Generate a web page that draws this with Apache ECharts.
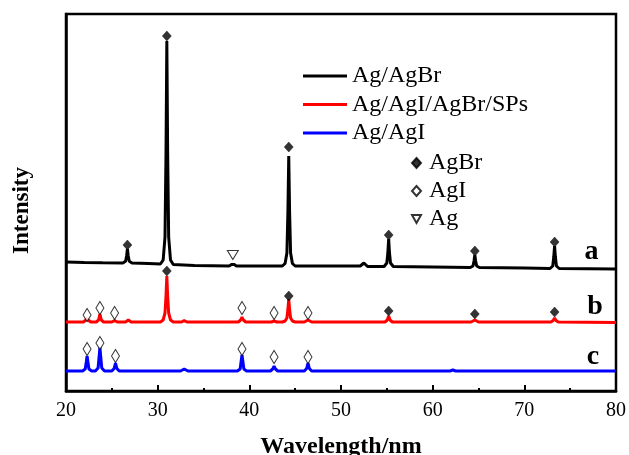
<!DOCTYPE html>
<html>
<head>
<meta charset="utf-8">
<script src="https://cdn.jsdelivr.net/npm/echarts@6/dist/echarts.min.js"></script>
<style>html,body{margin:0;padding:0;background:#fff}#c{width:629px;height:455px}</style>
</head>
<body>
<div id="c"></div>
<script>
// x tick labels
var xTicks = [20, 30, 40, 50, 60, 70, 80];
var seriesNames = ['Ag/AgBr', 'Ag/AgI/AgBr/SPs', 'Ag/AgI'];
var markerNames = ['AgBr', 'AgI', 'Ag'];
var curveLabels = ['a', 'b', 'c'];

// Curve a: Ag/AgBr  [2theta, intensity (offset, arbitrary units)]
var curveA = [
  [20,129],[22,128.5],[24,128.2],
  [26.2,128],[26.5,129.7],[26.61,135],[26.7,142],[26.79,135],[26.9,129.7],[27.2,128],
  [29,127.5],[30.3,127],[30.6,131],[30.8,154],[30.91,238],[31.0,350],[31.09,238],[31.2,154],[31.4,131],[31.7,126.5],
  [34,125.5],[37.8,125],[38.05,126.5],[38.2,128],[38.35,126.5],[38.6,125],
  [43.6,125],[43.9,127.5],[44.1,138],[44.21,180],[44.3,235],[44.39,180],[44.5,138],[44.7,127.5],[45.0,125],
  [48,125],[52.1,125],[52.5,128],[52.9,124.5],
  [54.7,124.5],[55.0,128],[55.11,138],[55.2,152],[55.29,138],[55.4,128],[55.7,124.5],
  [60,124],[64.1,123.5],[64.4,125],[64.51,130],[64.6,136],[64.69,130],[64.8,125],[65.1,123.5],
  [70,123],[72.8,122.5],[73.1,125],[73.21,134],[73.3,145],[73.39,134],[73.5,125],[73.8,122.5],
  [80,122]
];

// Curve b: Ag/AgI/AgBr/SPs
var curveB = [
  [20,69],[21.9,69],[22.3,72],[22.7,69],
  [23.3,69],[23.55,71],[23.7,77],[23.85,71],[24.1,69],
  [25.0,69],[25.3,70.5],[25.6,69],
  [26.5,69],[26.8,71],[27.1,69],
  [30.3,69],[30.6,71],[30.8,78],[30.91,95],[31.0,115],[31.09,95],[31.2,78],[31.4,71],[31.7,69],
  [32.6,69],[32.9,70.5],[33.2,69],
  [38.8,69],[39.05,71],[39.2,74],[39.35,71],[39.6,69],
  [42.4,69],[42.7,70],[43.0,69],
  [43.6,69],[43.9,70],[44.1,73],[44.21,82],[44.3,92],[44.39,82],[44.5,73],[44.7,70],[45.0,69],
  [46.0,69],[46.4,71],[46.8,69],
  [54.8,69],[55.05,71],[55.2,75],[55.35,71],[55.6,69],
  [64.2,69],[64.6,71],[65.0,69],
  [72.9,69],[73.15,70.5],[73.3,73],[73.45,70.5],[73.7,69],
  [80,68.5]
];

// Curve c: Ag/AgI
var curveC = [
  [20,20],
  [21.8,20],[22.1,22],[22.21,29],[22.3,35],[22.39,29],[22.5,22],[22.8,20],
  [23.2,20],[23.5,23],[23.61,34],[23.7,44],[23.79,34],[23.9,23],[24.2,20],
  [25.0,20],[25.25,22.5],[25.4,28],[25.55,22.5],[25.8,20],
  [32.5,20],[32.9,22],[33.3,20],
  [38.7,20],[39.0,22],[39.11,30],[39.2,36],[39.29,30],[39.4,22],[39.7,20],
  [42.3,20],[42.55,22],[42.7,25],[42.85,22],[43.1,20],
  [46.0,20],[46.25,22.5],[46.4,28],[46.55,22.5],[46.8,20],
  [61.9,20],[62.2,21],[62.5,20],
  [80,20]
];

// Phase markers
var markAgBr = [
  [26.7,146],[31.0,355],[44.3,244],[55.2,156],[64.6,140],[73.3,149],
  [31.0,120],[44.3,95],[55.2,80],[64.6,77],[73.3,79]
];
var markAgI = [
  [22.3,76],[23.7,83],[25.3,78],[39.2,83],[42.7,78],[46.4,78],
  [22.3,42],[23.7,48],[25.4,35],[39.2,42],[42.7,34],[46.4,34]
];
var markAg = [
  [38.2,136]
];

var SERIF = '"Liberation Serif", "Times New Roman", serif';
var colors = ['#000000', '#ff0000', '#0000ff'];
var curves = [curveA, curveB, curveC];

var series = curves.map(function (d, i) {
  return {
    name: seriesNames[i], type: 'line', data: d, symbol: 'none',
    lineStyle: { color: colors[i], width: 3 }, itemStyle: { color: colors[i] },
    z: 2, silent: true
  };
});
series.push({
  name: markerNames[0], type: 'scatter', data: markAgBr, symbol: 'diamond', symbolSize: [9, 10],
  itemStyle: { color: '#000', borderColor: '#000', borderWidth: 0.5 }, z: 5
});
series.push({
  name: markerNames[1], type: 'scatter', data: markAgI, symbol: 'diamond', symbolSize: [8, 13],
  itemStyle: { color: '#fff', borderColor: '#000', borderWidth: 1 }, z: 5
});
series.push({
  name: markerNames[2], type: 'scatter', data: markAg, symbol: 'path://M0,0 L10,0 L5,9 Z', symbolSize: [11, 9],
  itemStyle: { color: '#fff', borderColor: '#000', borderWidth: 1 }, z: 5
});

var chart = echarts.init(document.getElementById('c'), null, { renderer: 'canvas' });
chart.setOption({
  animation: false,
  backgroundColor: '#fff',
  grid: { left: 66, right: 13, top: 14, bottom: 64, outerBoundsMode: 'none', containLabel: false,
          show: true, borderColor: '#000', borderWidth: 2.5 },
  xAxis: {
    type: 'value', min: xTicks[0], max: xTicks[xTicks.length - 1], interval: 10,
    name: 'Wavelength/nm', nameLocation: 'middle', nameGap: 44,
    nameTextStyle: { fontFamily: SERIF, fontSize: 24, fontWeight: 'bold', color: '#000' },
    axisLine: { show: true, lineStyle: { color: '#000', width: 2.5 } },
    axisTick: { show: true, inside: true, length: 6, lineStyle: { color: '#000', width: 2 } },
    minorTick: { show: true, splitNumber: 2, length: 3, lineStyle: { color: '#000', width: 2 } },
    axisLabel: { fontFamily: SERIF, fontSize: 20, color: '#000', margin: 10 },
    splitLine: { show: false }
  },
  yAxis: {
    type: 'value', min: 0, max: 377,
    name: 'Intensity', nameLocation: 'middle', nameGap: 32,
    nameTextStyle: { fontFamily: SERIF, fontSize: 23, fontWeight: 'bold', color: '#000', padding: [0, 16, 0, 0] },
    axisLine: { show: true, lineStyle: { color: '#000', width: 2.5 } },
    axisTick: { show: false }, axisLabel: { show: false }, splitLine: { show: false }
  },
  legend: [
    {
      data: seriesNames, orient: 'vertical', left: 298, top: 59, itemWidth: 44, itemHeight: 3,
      itemGap: 4.5, icon: 'rect',
      textStyle: { fontFamily: SERIF, fontSize: 24, color: '#000' },
      selectedMode: false
    },
    {
      data: markerNames, orient: 'vertical', left: 406, top: 146, itemWidth: 9, itemHeight: 10,
      itemGap: 4,
      textStyle: { fontFamily: SERIF, fontSize: 24, color: '#000', padding: [0, 0, 0, 3] },
      selectedMode: false
    }
  ],
  series: series
});

// curve labels a, b, c
var labelPos = [[591.5, 265.5], [595, 320.5], [593, 370.5]];
chart.setOption({
  graphic: curveLabels.map(function (t, i) {
    return {
      type: 'text', x: labelPos[i][0], y: labelPos[i][1], z: 10,
      style: { text: t, font: 'bold 28px ' + SERIF, fill: '#000', align: 'center', verticalAlign: 'bottom' }
    };
  })
});
</script>
</body>
</html>
